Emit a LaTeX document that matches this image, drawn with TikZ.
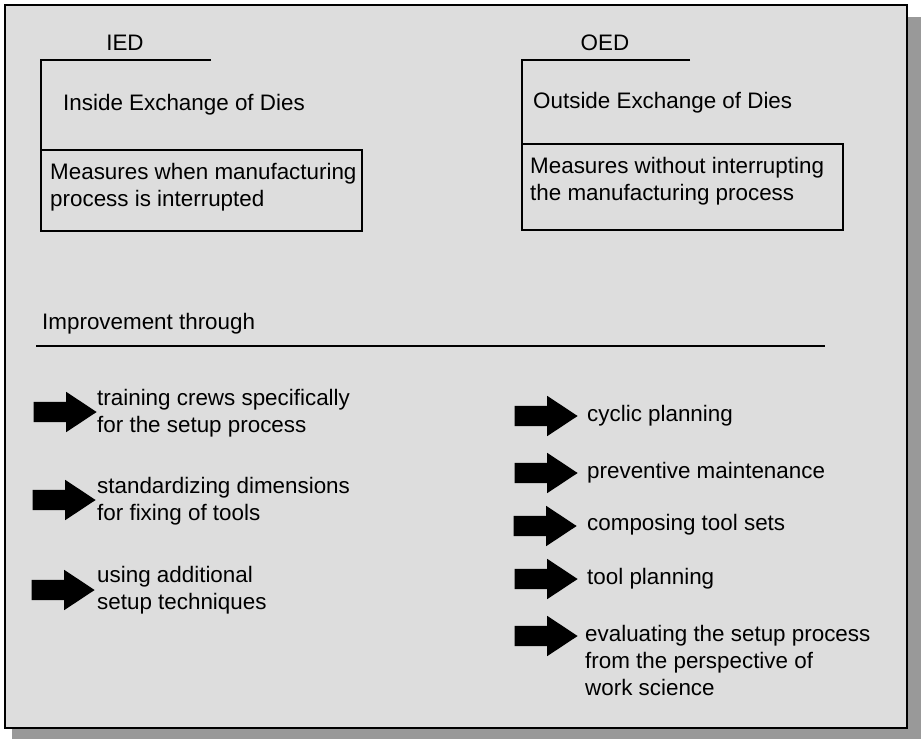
\documentclass[tikz,border=0pt]{standalone}
\usepackage{fontspec}
\setmainfont{Liberation Sans}
\usetikzlibrary{shapes.arrows}

\definecolor{panelgray}{HTML}{DDDDDD}
\definecolor{shadowgray}{HTML}{999999}

\tikzset{
  txt/.style={anchor=west, inner sep=0pt, align=left, font=\fontsize{22.4}{27}\selectfont},
  arr/.style={single arrow, fill=black, draw=none, inner xsep=0pt, inner ysep=10pt,
    minimum height=63pt, minimum width=40pt, anchor=tip,
    single arrow head extend=10pt, single arrow tip angle=67},
  rule/.style={line width=1.5pt}
}

\begin{document}
\begin{tikzpicture}[x=1pt,y=-1pt]
  \useasboundingbox (0,0) rectangle (921,739);

  % Panel with shadow
  \fill[shadowgray] (12,17) rectangle (921,739);
  \draw[fill=panelgray, line width=2pt] (5,5) rectangle (907,728);

  % Left (inside) side
  \node[txt, anchor=center] (ied) at (125,43) {IED};
  \coordinate (iedtop) at (41,60);
  \coordinate (iedend) at (211,60);
  \node[txt] (iedname) at (63,105) {Inside Exchange of Dies};
  \node[txt] (iedtext) at (50,187) {Measures when manufacturing\\process is interrupted};
  \draw[rule] (41,150) rectangle (362,231);
  \draw[rule] (iedend) -- (iedtop) -- (41,150);

  % Right (outside) side
  \node[txt, anchor=center] (oed) at (605,43) {OED};
  \coordinate (oedtop) at (522,60);
  \coordinate (oedend) at (690,60);
  \node[txt] (oedname) at (533,103) {Outside Exchange of Dies};
  \node[txt] (oedtext) at (530,181) {Measures without interrupting\\the manufacturing process};
  \draw[rule] (522,144) rectangle (843,230);
  \draw[rule] (oedend) -- (oedtop) -- (522,144);

  % Improvement heading
  \node[txt] (impr) at (42,324) {Improvement through};
  \coordinate (impl) at (36,346);
  \coordinate (impr-end) at (825,346);
  \draw[rule] (impl) -- (impr-end);

  % Left measures
  \node[arr] (la1) at (97,412) {};
  \node[txt] (lt1) at (97,413) {training crews specifically\\for the setup process};
  \node[arr] (la2) at (96,500) {};
  \node[txt] (lt2) at (97,501) {standardizing dimensions\\for fixing of tools};
  \node[arr] (la3) at (95,590) {};
  \node[txt] (lt3) at (97,590) {using additional\\setup techniques};

  % Right measures
  \node[arr] (ra1) at (578,416) {};
  \node[txt] (rt1) at (587,416) {cyclic planning};
  \node[arr] (ra2) at (578,473) {};
  \node[txt] (rt2) at (587,473) {preventive maintenance};
  \node[arr] (ra3) at (577,526) {};
  \node[txt] (rt3) at (587,525) {composing tool sets};
  \node[arr] (ra4) at (578,579) {};
  \node[txt] (rt4) at (587,579) {tool planning};
  \node[arr] (ra5) at (578,636) {};
  \node[txt] (rt5) at (585,660) {evaluating the setup process\\from the perspective of\\work science};
\end{tikzpicture}
\end{document}
